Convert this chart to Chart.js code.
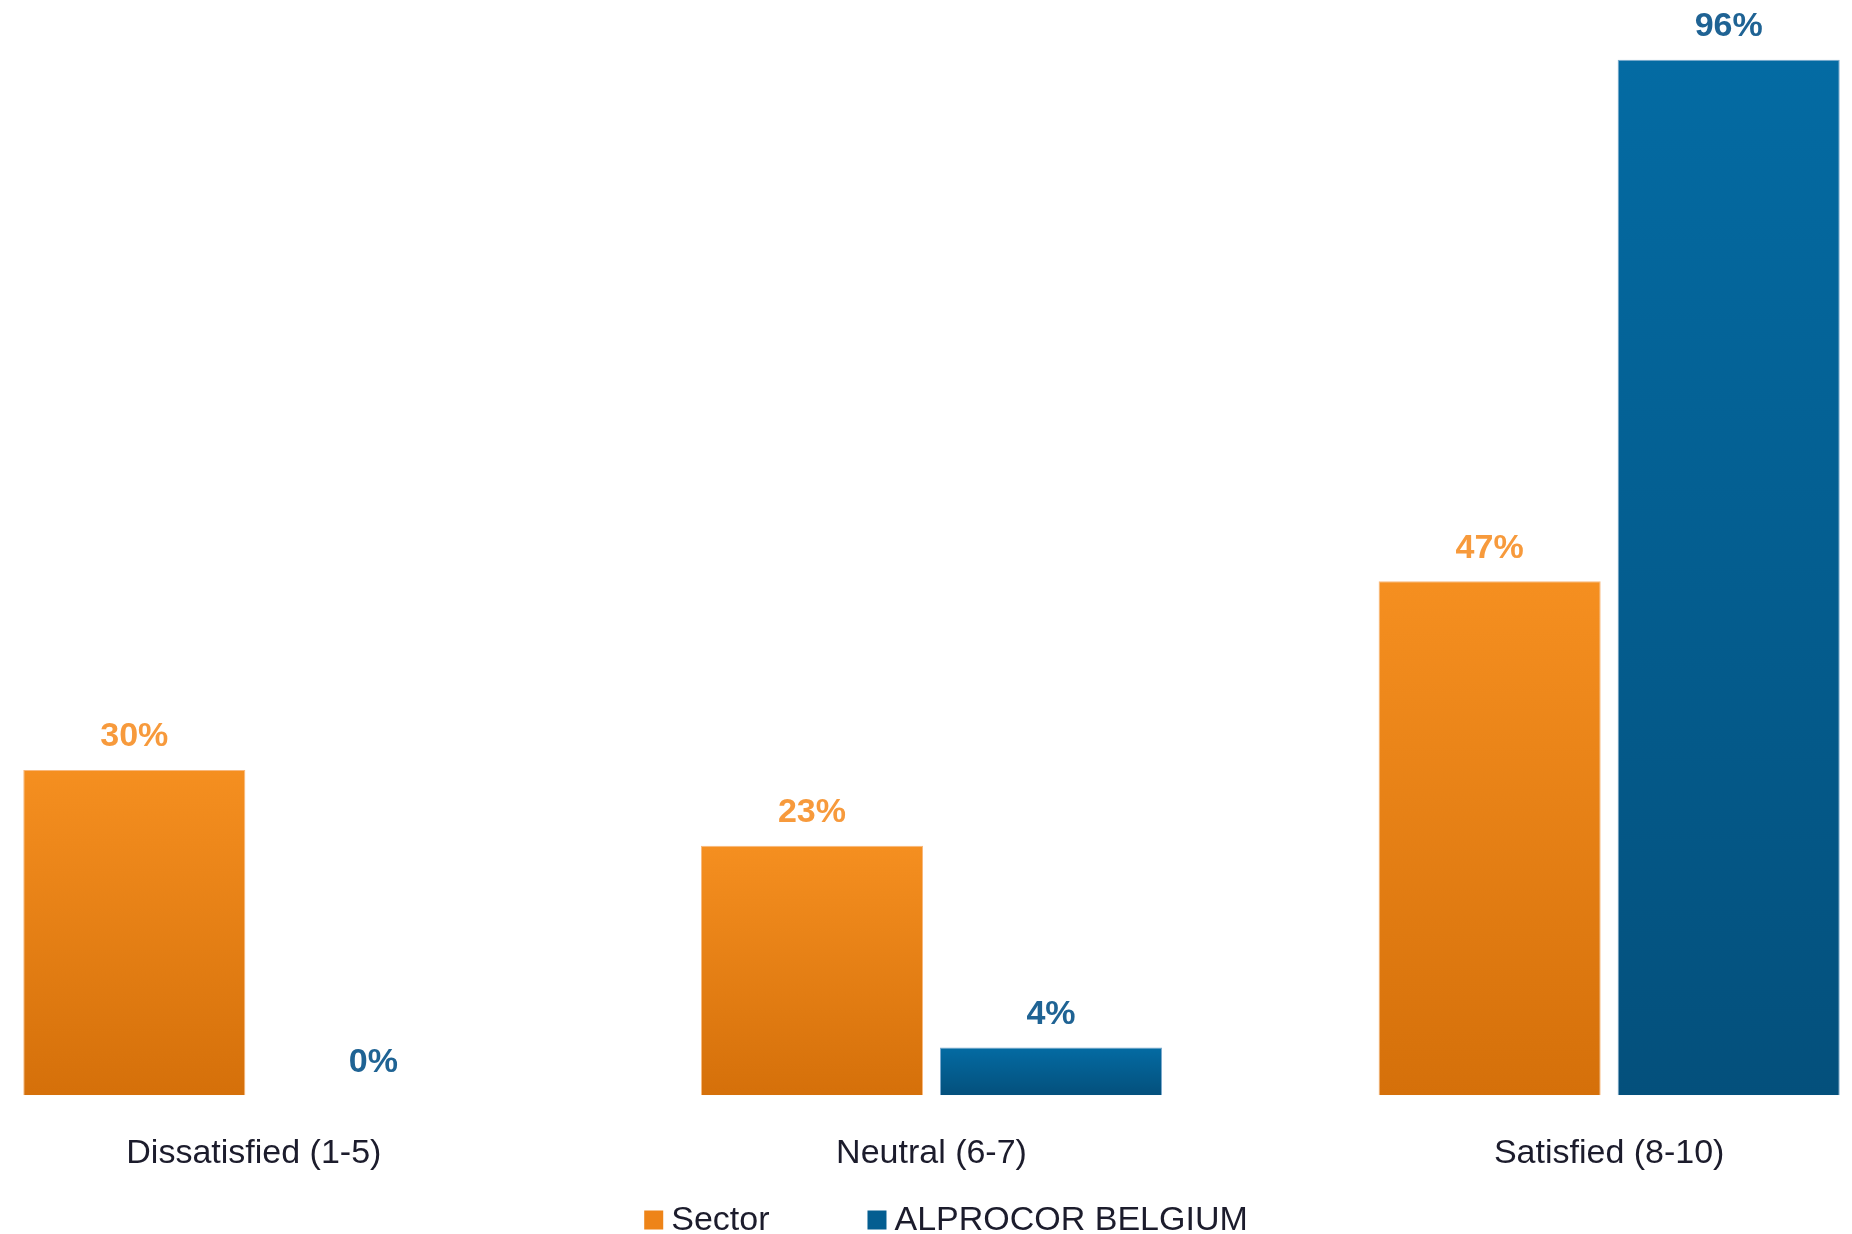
<!DOCTYPE html>
<html><head><meta charset="utf-8">
<script src="https://cdn.jsdelivr.net/npm/chart.js@4.4.1/dist/chart.umd.min.js"></script>
<style>
html,body{margin:0;padding:0;overflow:hidden;background:#fff;width:1852px;height:1234px;}
#wrap{position:absolute;left:-85px;top:0;width:2033px;height:1234px;}
</style></head><body>
<div id="wrap"><canvas id="c"></canvas></div>
<script>
const categories = ['Dissatisfied (1-5)', 'Neutral (6-7)', 'Satisfied (8-10)'];
const seriesNames = ['Sector', 'ALPROCOR BELGIUM'];
const sectorValues = [30, 23, 47.4];
const alprocorValues = [0, 4.4, 95.5];

const FONT = '"Liberation Sans", Arial, sans-serif';

function barGradient(topColor, bottomColor) {
  return (ctx) => {
    const chart = ctx.chart;
    if (!chart.chartArea || ctx.raw === undefined) return topColor;
    const y = chart.scales.y;
    const yt = y.getPixelForValue(ctx.raw), yb = y.getPixelForValue(0);
    if (yb - yt < 1) return topColor;
    const g = chart.ctx.createLinearGradient(0, yt, 0, yb);
    g.addColorStop(0, topColor);
    g.addColorStop(1, bottomColor);
    return g;
  };
}

const valueLabels = {
  id: 'valueLabels',
  afterDatasetsDraw(chart) {
    const c = chart.ctx;
    chart.data.datasets.forEach((ds, i) => {
      const meta = chart.getDatasetMeta(i);
      meta.data.forEach((bar, j) => {
        const v = ds.data[j];
        c.save();
        c.font = 'bold 34px ' + FONT;
        c.fillStyle = ds.labelColor;
        c.textAlign = 'center';
        c.textBaseline = 'middle';
        c.fillText(Math.round(v) + '%', bar.x, bar.y - 33);
        c.restore();
      });
    });
  }
};

const bottomLegend = {
  id: 'bottomLegend',
  afterDraw(chart) {
    const c = chart.ctx;
    const box = 19, gapText = 8, gapItem = 98, cy = 1220;
    c.save();
    c.font = '34px ' + FONT;
    c.textBaseline = 'middle';
    c.textAlign = 'left';
    const items = chart.data.datasets.map(ds => ({ text: ds.label, color: ds.legendColor, w: box + gapText + c.measureText(ds.label).width }));
    const total = items.reduce((s, it) => s + it.w, 0) + gapItem * (items.length - 1);
    let x = 1031 - total / 2;
    items.forEach(it => {
      c.fillStyle = it.color;
      c.fillRect(x, cy - box / 2, box, box);
      c.fillStyle = '#1c1c2c';
      c.fillText(it.text, x + box + gapText, cy + 1);
      x += it.w + gapItem;
    });
    c.restore();
  }
};

new Chart(document.getElementById('c'), {
  type: 'bar',
  data: {
    labels: categories,
    datasets: [
      {
        label: seriesNames[0],
        data: sectorValues,
        backgroundColor: barGradient('#F58F20', '#D5700A'),
        borderColor: 'rgba(248,176,110,0.9)',
        borderWidth: 1,
        labelColor: '#F79A3C',
        legendColor: '#EE8418'
      },
      {
        label: seriesNames[1],
        data: alprocorValues,
        backgroundColor: barGradient('#046BA3', '#04507C'),
        borderColor: 'rgba(110,160,200,0.9)',
        borderWidth: 1,
        labelColor: '#1F6394',
        legendColor: '#045E91'
      }
    ]
  },
  options: {
    responsive: true,
    maintainAspectRatio: false,
    animation: false,
    devicePixelRatio: 1,
    layout: { padding: { top: 11, bottom: 22, left: 0, right: 0 } },
    categoryPercentage: 0.7055,
    barPercentage: 0.929,
    plugins: { legend: { display: false }, tooltip: { enabled: false } },
    scales: {
      x: {
        grid: { display: false, drawTicks: false },
        border: { display: false },
        ticks: { padding: 38, color: '#1c1c2c', font: { family: FONT, size: 34 } }
      },
      y: { display: false, min: 0, max: 100 }
    }
  },
  plugins: [valueLabels, bottomLegend]
});
</script>
</body></html>
